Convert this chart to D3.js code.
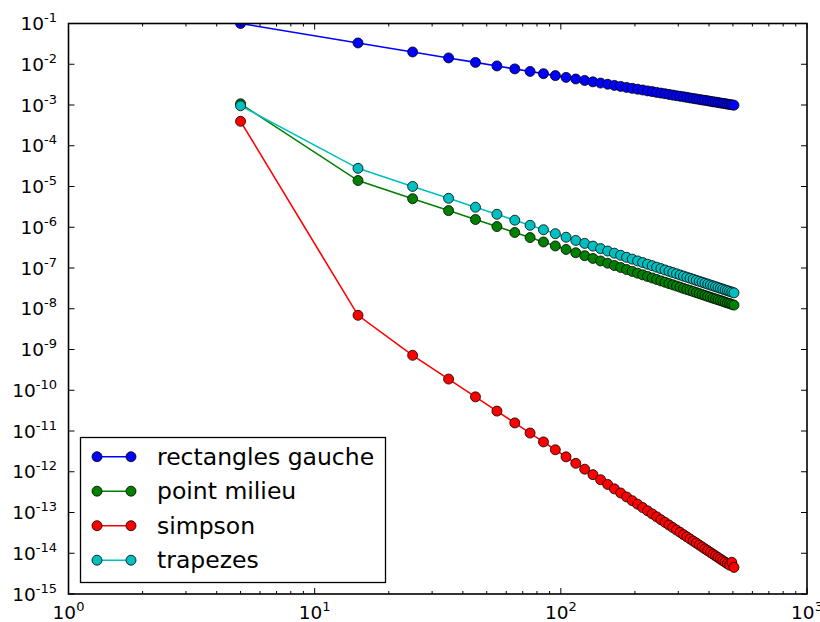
<!DOCTYPE html>
<html><head><meta charset="utf-8">
<script src="https://cdn.jsdelivr.net/npm/d3@7"></script>
<style>body{margin:0;background:#fff} svg{display:block} text{font-family:"DejaVu Sans",sans-serif;fill:#000}</style>
</head><body><svg id="c" width="820" height="622"></svg>
<script>
const nValues = [5,15,25,35,45,55,65,75,85,95,105,115,125,135,145,155,165,175,185,195,205,215,225,235,245,255,265,275,285,295,305,315,325,335,345,355,365,375,385,395,405,415,425,435,445,455,465,475,485,495,505];
const rectanglesGauche = [1.0e-1,3.33e-2,2.0e-2,1.43e-2,1.11e-2,9.09e-3,7.69e-3,6.67e-3,5.88e-3,5.26e-3,4.76e-3,4.35e-3,4.0e-3,3.70e-3,3.45e-3,3.23e-3,3.03e-3,2.86e-3,2.70e-3,2.56e-3,2.44e-3,2.33e-3,2.22e-3,2.13e-3,2.04e-3,1.96e-3,1.89e-3,1.82e-3,1.75e-3,1.69e-3,1.64e-3,1.59e-3,1.54e-3,1.49e-3,1.45e-3,1.41e-3,1.37e-3,1.33e-3,1.30e-3,1.27e-3,1.23e-3,1.20e-3,1.18e-3,1.15e-3,1.12e-3,1.10e-3,1.08e-3,1.05e-3,1.03e-3,1.01e-3,9.9e-4];
const pointMilieu = [1.07e-3,1.40e-5,5.02e-6,2.56e-6,1.55e-6,1.04e-6,7.43e-7,5.58e-7,4.35e-7,3.48e-7,2.85e-7,2.37e-7,2.01e-7,1.72e-7,1.49e-7,1.31e-7,1.15e-7,1.03e-7,9.17e-8,8.26e-8,7.47e-8,6.79e-8,6.20e-8,5.69e-8,5.23e-8,4.83e-8,4.47e-8,4.15e-8,3.87e-8,3.61e-8,3.38e-8,3.16e-8,2.97e-8,2.80e-8,2.64e-8,2.49e-8,2.36e-8,2.23e-8,2.12e-8,2.01e-8,1.91e-8,1.82e-8,1.74e-8,1.66e-8,1.59e-8,1.52e-8,1.45e-8,1.39e-8,1.34e-8,1.28e-8,1.23e-8];
const simpson = [3.98e-4,6.9e-9,7.2e-10,1.88e-10,6.88e-11,3.08e-11,1.58e-11,8.91e-12,5.40e-12,3.46e-12,2.32e-12,1.61e-12,1.155e-12,8.49e-13,6.38e-13,4.89e-13,3.80e-13,3.01e-13,2.41e-13,1.95e-13,1.60e-13,1.32e-13,1.10e-13,9.25e-14,7.83e-14,6.67e-14,5.72e-14,4.93e-14,4.27e-14,3.72e-14,3.26e-14,2.86e-14,2.53e-14,2.24e-14,1.99e-14,1.78e-14,1.59e-14,1.43e-14,1.28e-14,1.16e-14,1.05e-14,9.51e-15,8.64e-15,7.88e-15,7.19e-15,6.58e-15,6.03e-15,5.54e-15,5.10e-15,6.0e-15,4.5e-15];
const trapezes = [9.6e-4,2.79e-5,1.004e-5,5.13e-6,3.10e-6,2.08e-6,1.49e-6,1.117e-6,8.69e-7,6.96e-7,5.70e-7,4.75e-7,4.02e-7,3.45e-7,2.99e-7,2.61e-7,2.31e-7,2.05e-7,1.83e-7,1.65e-7,1.49e-7,1.36e-7,1.24e-7,1.14e-7,1.046e-7,9.66e-8,8.94e-8,8.30e-8,7.73e-8,7.22e-8,6.75e-8,6.33e-8,5.95e-8,5.60e-8,5.28e-8,4.98e-8,4.71e-8,4.47e-8,4.24e-8,4.03e-8,3.83e-8,3.65e-8,3.48e-8,3.32e-8,3.17e-8,3.03e-8,2.90e-8,2.78e-8,2.67e-8,2.56e-8,2.46e-8];
const seriesNames = ["rectangles gauche","point milieu","simpson","trapezes"];
const seriesColors = ["#0000ff","#008000","#ff0000","#00bfbf"];
const xTickExponents = [0,1,2,3];
const yTickExponents = [-15,-14,-13,-12,-11,-10,-9,-8,-7,-6,-5,-4,-3,-2,-1];

const seriesValues = [rectanglesGauche, pointMilieu, simpson, trapezes];
const L = 68.5, R = 807, T = 23.5, B = 594;
const svg = d3.select("#c");
const x = d3.scaleLog().domain([1,1000]).range([L,R]);
const y = d3.scaleLog().domain([1e-15,1e-1]).range([B,T]);

svg.append("defs").append("clipPath").attr("id","clip")
  .append("rect").attr("x",L).attr("y",T).attr("width",R-L).attr("height",B-T);

const plot = svg.append("g").attr("clip-path","url(#clip)");
const line = d3.line().x((d,i)=>x(nValues[i])).y(d=>y(d));
seriesValues.forEach((vals,k)=>{
  const g = plot.append("g");
  g.append("path").attr("d", line(vals)).attr("fill","none")
    .attr("stroke", seriesColors[k]).attr("stroke-width",1.6);
  g.selectAll("circle").data(vals).join("circle")
    .attr("cx",(d,i)=>x(nValues[i])).attr("cy",d=>y(d)).attr("r",5)
    .attr("fill",seriesColors[k]).attr("stroke","#000").attr("stroke-width",0.8);
});

// ticks
const xMajor = xTickExponents.map(e=>Math.pow(10,e));
const xMinor = [];
for (let e=0;e<3;e++) for (let m=2;m<10;m++) xMinor.push(m*Math.pow(10,e));
const yMajor = yTickExponents.map(e=>Math.pow(10,e));
const tk = svg.append("g").attr("stroke","#000").attr("stroke-width",1);
xMajor.forEach(v=>{
  tk.append("line").attr("x1",x(v)).attr("x2",x(v)).attr("y1",B).attr("y2",B-6);
  tk.append("line").attr("x1",x(v)).attr("x2",x(v)).attr("y1",T).attr("y2",T+6);
});
xMinor.forEach(v=>{
  tk.append("line").attr("x1",x(v)).attr("x2",x(v)).attr("y1",B).attr("y2",B-3);
  tk.append("line").attr("x1",x(v)).attr("x2",x(v)).attr("y1",T).attr("y2",T+3);
});
yMajor.forEach(v=>{
  tk.append("line").attr("x1",L).attr("x2",L+6).attr("y1",y(v)).attr("y2",y(v));
  tk.append("line").attr("x1",R).attr("x2",R-6).attr("y1",y(v)).attr("y2",y(v));
});
svg.append("rect").attr("x",L).attr("y",T).attr("width",R-L).attr("height",B-T)
  .attr("fill","none").attr("stroke","#000").attr("stroke-width",1.6);

// labels
function powLabel(sel, e){
  sel.append("tspan").text("10");
  sel.append("tspan").attr("font-size",13).attr("dy",-8).text(String(e));
}
xTickExponents.forEach(e=>{
  const t = svg.append("text").attr("x",x(Math.pow(10,e))).attr("y",619)
    .attr("text-anchor","middle").attr("font-size",18.5);
  powLabel(t,e);
});
yTickExponents.forEach(e=>{
  const t = svg.append("text").attr("x",57).attr("y",y(Math.pow(10,e))+6.5)
    .attr("text-anchor","end").attr("font-size",18.5);
  powLabel(t,e);
});

// legend
const lg = svg.append("g");
lg.append("rect").attr("x",80.5).attr("y",437.5).attr("width",305).attr("height",145)
  .attr("fill","#fff").attr("stroke","#000").attr("stroke-width",1.3);
seriesNames.forEach((name,k)=>{
  const cy = 456.7 + k*34.5;
  lg.append("line").attr("x1",97).attr("x2",131).attr("y1",cy).attr("y2",cy)
    .attr("stroke",seriesColors[k]).attr("stroke-width",1.6);
  [97,131].forEach(cx=>lg.append("circle").attr("cx",cx).attr("cy",cy).attr("r",5)
    .attr("fill",seriesColors[k]).attr("stroke","#000").attr("stroke-width",0.8));
  lg.append("text").attr("x",157).attr("y",cy+8).attr("font-size",23.5).text(name);
});
</script></body></html>
